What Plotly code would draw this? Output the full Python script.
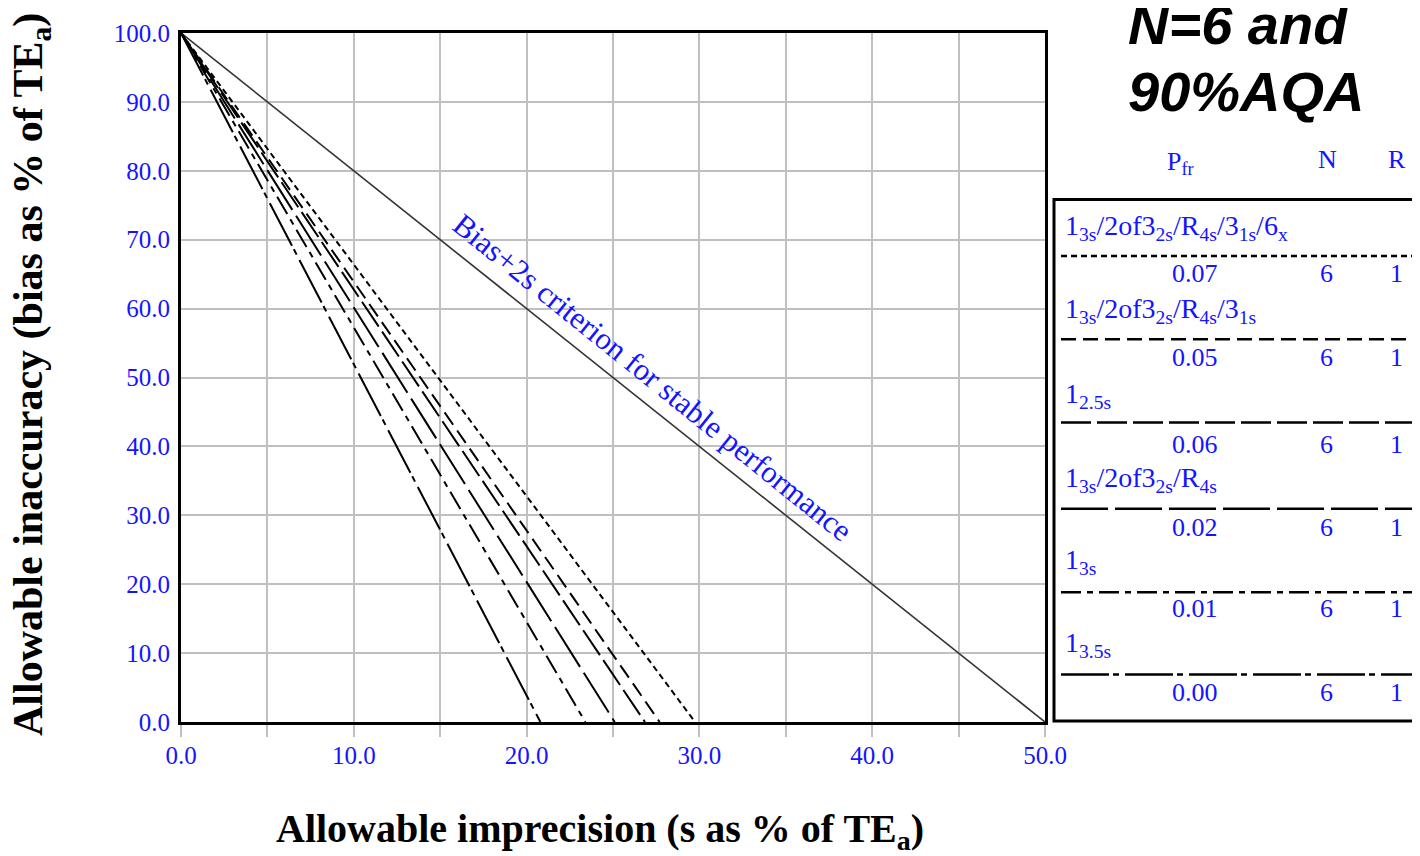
import plotly.graph_objects as go

# ---------------- data ----------------
rule_labels = [
    "1<sub>3s</sub>/2of3<sub>2s</sub>/R<sub>4s</sub>/3<sub>1s</sub>/6<sub>x</sub>",
    "1<sub>3s</sub>/2of3<sub>2s</sub>/R<sub>4s</sub>/3<sub>1s</sub>",
    "1<sub>2.5s</sub>",
    "1<sub>3s</sub>/2of3<sub>2s</sub>/R<sub>4s</sub>",
    "1<sub>3s</sub>",
    "1<sub>3.5s</sub>",
]
# x-intercepts (allowable imprecision at zero bias) of each OPSpecs line
x_intercepts = [29.75, 27.7, 26.85, 25.1, 23.4, 20.8]
pfr_vals = ["0.07", "0.05", "0.06", "0.02", "0.01", "0.00"]
n_vals = [6, 6, 6, 6, 6, 6]
r_vals = [1, 1, 1, 1, 1, 1]

# bias + 2s criterion line
crit_x = [0, 50]
crit_y = [100, 0]

x_ticks = [0, 10, 20, 30, 40, 50]
x_ticktext = ["0.0", "10.0", "20.0", "30.0", "40.0", "50.0"]
y_ticks = [0, 10, 20, 30, 40, 50, 60, 70, 80, 90, 100]
y_ticktext = ["0.0", "10.0", "20.0", "30.0", "40.0", "50.0", "60.0", "70.0", "80.0", "90.0", "100.0"]

# ---------------- styles ----------------
dash_styles = [
    "6px,4px",
    "15px,7px",
    "30px,6px",
    "47px,7px",
    "20px,6px,6px,6px",
    "48px,4px,6px,6px",
]
BLUE = "#1414ff"
SERIF = "Liberation Serif, Times New Roman, serif"
GRID = "#c0c0c0"

# page body has an 8px margin; figure is placed so the screen layout matches
OFF = 8
W, H = 1420 - OFF, 856 - OFF
L, R, T, B = 181, 1045, 27, 722  # plot area on screen


def px(x):
    return (x - L) / (R - L)


def py(y):
    return (B - y) / (B - T)


fig = go.Figure()

fig.add_trace(go.Scatter(x=crit_x, y=crit_y, mode="lines",
                         line=dict(color="#333333", width=1.6),
                         hoverinfo="skip"))

for xi, ds in zip(x_intercepts, dash_styles):
    fig.add_trace(go.Scatter(x=[0, xi], y=[100, 0], mode="lines",
                             line=dict(color="black", width=2, dash=ds),
                             hoverinfo="skip"))

annotations = []
shapes = []

# criterion label
annotations.append(dict(
    x=27.3, y=50.0, xref="x", yref="y",
    text="Bias+2s criterion for stable performance",
    showarrow=False, textangle=38.8,
    font=dict(family=SERIF, size=31, color=BLUE),
))

# title
TFONT = dict(family="Liberation Sans, Arial, sans-serif", size=56, color="black")
annotations.append(dict(x=px(1126), y=py(18), xref="paper", yref="paper",
                        xanchor="left", yanchor="middle", showarrow=False,
                        text="<b><i>N=6 and</i></b>", font=TFONT))
annotations.append(dict(x=px(1126), y=py(86), xref="paper", yref="paper",
                        xanchor="left", yanchor="middle", showarrow=False,
                        text="<b><i>90%AQA</i></b>", font=TFONT))

# axis titles
annotations.append(dict(x=px(600), y=py(832), xref="paper", yref="paper",
                        xanchor="center", yanchor="middle", showarrow=False,
                        text="<b>Allowable imprecision (s as % of TE<sub>a</sub>)</b>",
                        font=dict(family=SERIF, size=40, color="black")))
annotations.append(dict(x=px(31), y=py(372), xref="paper", yref="paper",
                        xanchor="center", yanchor="middle", showarrow=False,
                        textangle=-90,
                        text="<b>Allowable inaccuracy (bias as % of TE<sub>a</sub>)</b>",
                        font=dict(family=SERIF, size=42, color="black")))

# legend table header
hdr_font = dict(family=SERIF, size=26, color=BLUE)
annotations.append(dict(x=px(1180), y=py(158), xref="paper", yref="paper",
                        xanchor="center", yanchor="middle", showarrow=False,
                        text="P<sub>fr</sub>", font=hdr_font))
annotations.append(dict(x=px(1327), y=py(155), xref="paper", yref="paper",
                        xanchor="center", yanchor="middle", showarrow=False,
                        text="N", font=hdr_font))
annotations.append(dict(x=px(1397), y=py(155), xref="paper", yref="paper",
                        xanchor="center", yanchor="middle", showarrow=False,
                        text="R", font=hdr_font))

# legend box
shapes.append(dict(type="rect", xref="paper", yref="paper",
                   x0=px(1054), x1=px(1432), y0=py(721), y1=py(195),
                   line=dict(color="black", width=3), fillcolor="rgba(0,0,0,0)"))

label_y = [223, 307, 393, 477, 560, 644]
line_y = [252, 336, 420, 507, 591, 674]
value_y = [270, 354, 442, 526, 608, 692]

for lab, pf, n, r, ds, ly, lny, vy in zip(rule_labels, pfr_vals, n_vals, r_vals,
                                         dash_styles, label_y, line_y, value_y):
    annotations.append(dict(x=px(1063), y=py(ly), xref="paper", yref="paper",
                            xanchor="left", yanchor="middle", showarrow=False,
                            text=lab, font=dict(family=SERIF, size=28, color=BLUE)))
    shapes.append(dict(type="line", xref="paper", yref="paper",
                       x0=px(1061), x1=px(1420), y0=py(lny), y1=py(lny),
                       line=dict(color="black", width=2.5, dash=ds)))
    annotations.append(dict(x=px(1195), y=py(vy), xref="paper", yref="paper",
                            xanchor="center", yanchor="middle", showarrow=False,
                            text=pf, font=dict(family=SERIF, size=26, color=BLUE)))
    annotations.append(dict(x=px(1326), y=py(vy), xref="paper", yref="paper",
                            xanchor="center", yanchor="middle", showarrow=False,
                            text=str(n), font=dict(family=SERIF, size=26, color=BLUE)))
    annotations.append(dict(x=px(1396), y=py(vy), xref="paper", yref="paper",
                            xanchor="center", yanchor="middle", showarrow=False,
                            text=str(r), font=dict(family=SERIF, size=26, color=BLUE)))

fig.update_layout(
    width=W, height=H,
    margin=dict(l=L - OFF, r=W - (R - OFF), t=T - OFF, b=H - (B - OFF), pad=0),
    paper_bgcolor="white", plot_bgcolor="white",
    showlegend=False,
    annotations=annotations,
    shapes=shapes,
    xaxis=dict(range=[0, 50], tickvals=x_ticks, ticktext=x_ticktext,
               ticks="outside", ticklen=9, tickwidth=2, tickcolor=GRID,
               showgrid=True, gridcolor=GRID, gridwidth=2,
               minor=dict(dtick=5, ticks="outside", ticklen=12, tickwidth=2,
                          tickcolor=GRID, showgrid=True, gridcolor=GRID, gridwidth=2),
               showline=True, linecolor="black", linewidth=3, mirror=True,
               zeroline=False, ticklabelstandoff=0,
               tickfont=dict(family=SERIF, size=25, color=BLUE)),
    yaxis=dict(range=[0, 100], tickvals=y_ticks, ticktext=y_ticktext,
               ticks="", showgrid=True, gridcolor=GRID, gridwidth=2,
               showline=True, linecolor="black", linewidth=3, mirror=True,
               zeroline=False, ticklabelstandoff=3,
               tickfont=dict(family=SERIF, size=25, color=BLUE)),
)

fig.write_html("out.html")
